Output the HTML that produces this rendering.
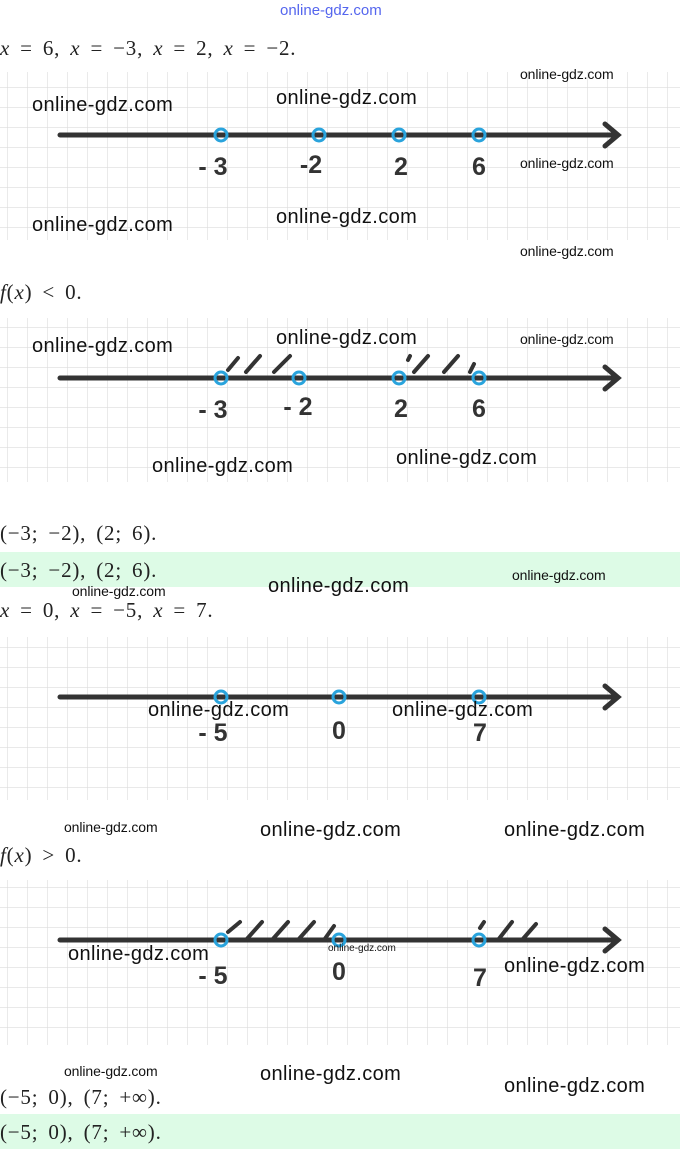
<!DOCTYPE html>
<html><head><meta charset="utf-8"><style>
body{margin:0;width:680px;height:1149px;position:relative;background:#fff;overflow:hidden;font-family:"Liberation Sans",sans-serif}
.m{position:absolute;left:0;font-family:"Liberation Serif",serif;font-size:21px;color:#222;white-space:nowrap;word-spacing:4px;letter-spacing:0.8px}
.m i{font-style:italic}
.w{position:absolute;font-family:"Liberation Sans",sans-serif;color:#111;white-space:nowrap}
.b{font-size:20px;letter-spacing:0.4px}.s{font-size:14px;letter-spacing:-0.1px}
.band{position:absolute;left:0;width:680px;background:#ddfbe6}
svg{position:absolute;left:0}
</style></head><body>
<div class="w" style="left:280px;top:2px;font-size:15px;color:#5566ee">online-gdz.com</div>
<div class="m" style="top:36px"><i>x</i> = 6, <i>x</i> = −3, <i>x</i> = 2, <i>x</i> = −2.</div>

<svg width="680" height="1149" viewBox="0 0 680 1149">
<defs>
<pattern id="g" width="20" height="20" patternUnits="userSpaceOnUse" x="8" y="8">
<path d="M20 0V20M0 20H20" stroke="#dcdcdc" stroke-width="1.2" fill="none"/>
</pattern>
</defs>
<rect x="0" y="72" width="680" height="168" fill="url(#g)"/>
<rect x="0" y="318" width="680" height="164" fill="url(#g)"/>
<rect x="0" y="637" width="680" height="163" fill="url(#g)"/>
<rect x="0" y="880" width="680" height="165" fill="url(#g)"/>
<g stroke="#333" stroke-width="5" fill="none" stroke-linecap="round">
<path d="M60 135H618M605 124L618 135L605 146"/>
<path d="M60 378H618M605 367L618 378L605 389"/>
<path d="M60 697H618M605 686L618 697L605 708"/>
<path d="M60 940H618M605 929L618 940L605 951"/>
</g>
<g stroke="#333" stroke-width="4" stroke-linecap="round">
<path d="M228 370L238 358M246 372L260 356M274 372L290 356"/>
<path d="M408 360L410 356M414 372L428 356M444 372L458 356M470 372L474 364"/>
<path d="M228 932L240 922M246 940L262 922M272 940L288 922M298 940L314 922M324 940L334 926"/>
<path d="M480 928L484 922M498 940L512 922M522 940L536 924"/>
</g>
<g stroke="#29a3dc" stroke-width="3" fill="none">
<circle cx="221" cy="135" r="6"/><circle cx="319" cy="135" r="6"/><circle cx="399" cy="135" r="6"/><circle cx="479" cy="135" r="6"/>
<circle cx="221" cy="378" r="6"/><circle cx="299" cy="378" r="6"/><circle cx="399" cy="378" r="6"/><circle cx="479" cy="378" r="6"/>
<circle cx="221" cy="697" r="6"/><circle cx="339" cy="697" r="6"/><circle cx="479" cy="697" r="6"/>
<circle cx="221" cy="940" r="6"/><circle cx="339" cy="940" r="6"/><circle cx="479" cy="940" r="6"/>
</g>
<g font-family="Liberation Sans,sans-serif" font-weight="bold" font-size="25" fill="#333" text-anchor="middle">
<text x="213" y="175">- 3</text><text x="311" y="173">-2</text><text x="401" y="175">2</text><text x="479" y="175">6</text>
<text x="213" y="418">- 3</text><text x="298" y="415">- 2</text><text x="401" y="417">2</text><text x="479" y="417">6</text>
<text x="213" y="741">- 5</text><text x="339" y="739">0</text><text x="480" y="741">7</text>
<text x="213" y="984">- 5</text><text x="339" y="980">0</text><text x="480" y="986">7</text>
</g>
</svg>

<div class="w s" style="left:520px;top:66px">online-gdz.com</div>
<div class="w b" style="left:32px;top:94px">online-gdz.com</div>
<div class="w b" style="left:276px;top:87px">online-gdz.com</div>
<div class="w s" style="left:520px;top:155px">online-gdz.com</div>
<div class="w b" style="left:32px;top:214px">online-gdz.com</div>
<div class="w b" style="left:276px;top:206px">online-gdz.com</div>
<div class="w s" style="left:520px;top:243px">online-gdz.com</div>

<div class="m" style="top:280px"><i>f</i>(<i>x</i>) &lt; 0.</div>
<div class="w b" style="left:32px;top:335px">online-gdz.com</div>
<div class="w b" style="left:276px;top:327px">online-gdz.com</div>
<div class="w s" style="left:520px;top:331px">online-gdz.com</div>
<div class="w b" style="left:152px;top:455px">online-gdz.com</div>
<div class="w b" style="left:396px;top:447px">online-gdz.com</div>

<div class="m" style="top:521px">(−3; −2), (2; 6).</div>
<div class="band" style="top:552px;height:35px"></div>
<div class="m" style="top:558px">(−3; −2), (2; 6).</div>
<div class="w s" style="left:512px;top:567px">online-gdz.com</div>
<div class="w b" style="left:268px;top:575px">online-gdz.com</div>
<div class="w s" style="left:72px;top:583px">online-gdz.com</div>
<div class="m" style="top:598px"><i>x</i> = 0, <i>x</i> = −5, <i>x</i> = 7.</div>

<div class="w b" style="left:148px;top:699px">online-gdz.com</div>
<div class="w b" style="left:392px;top:699px">online-gdz.com</div>
<div class="w s" style="left:64px;top:819px">online-gdz.com</div>
<div class="w b" style="left:260px;top:819px">online-gdz.com</div>
<div class="w b" style="left:504px;top:819px">online-gdz.com</div>
<div class="m" style="top:843px"><i>f</i>(<i>x</i>) &gt; 0.</div>

<div class="w b" style="left:68px;top:943px">online-gdz.com</div>
<div class="w" style="left:328px;top:943px;font-size:10px">online-gdz.com</div>
<div class="w b" style="left:504px;top:955px">online-gdz.com</div>
<div class="w s" style="left:64px;top:1063px">online-gdz.com</div>
<div class="w b" style="left:260px;top:1063px">online-gdz.com</div>
<div class="w b" style="left:504px;top:1075px">online-gdz.com</div>
<div class="m" style="top:1085px">(−5; 0), (7; +∞).</div>
<div class="band" style="top:1114px;height:35px"></div>
<div class="m" style="top:1120px">(−5; 0), (7; +∞).</div>
</body></html>
